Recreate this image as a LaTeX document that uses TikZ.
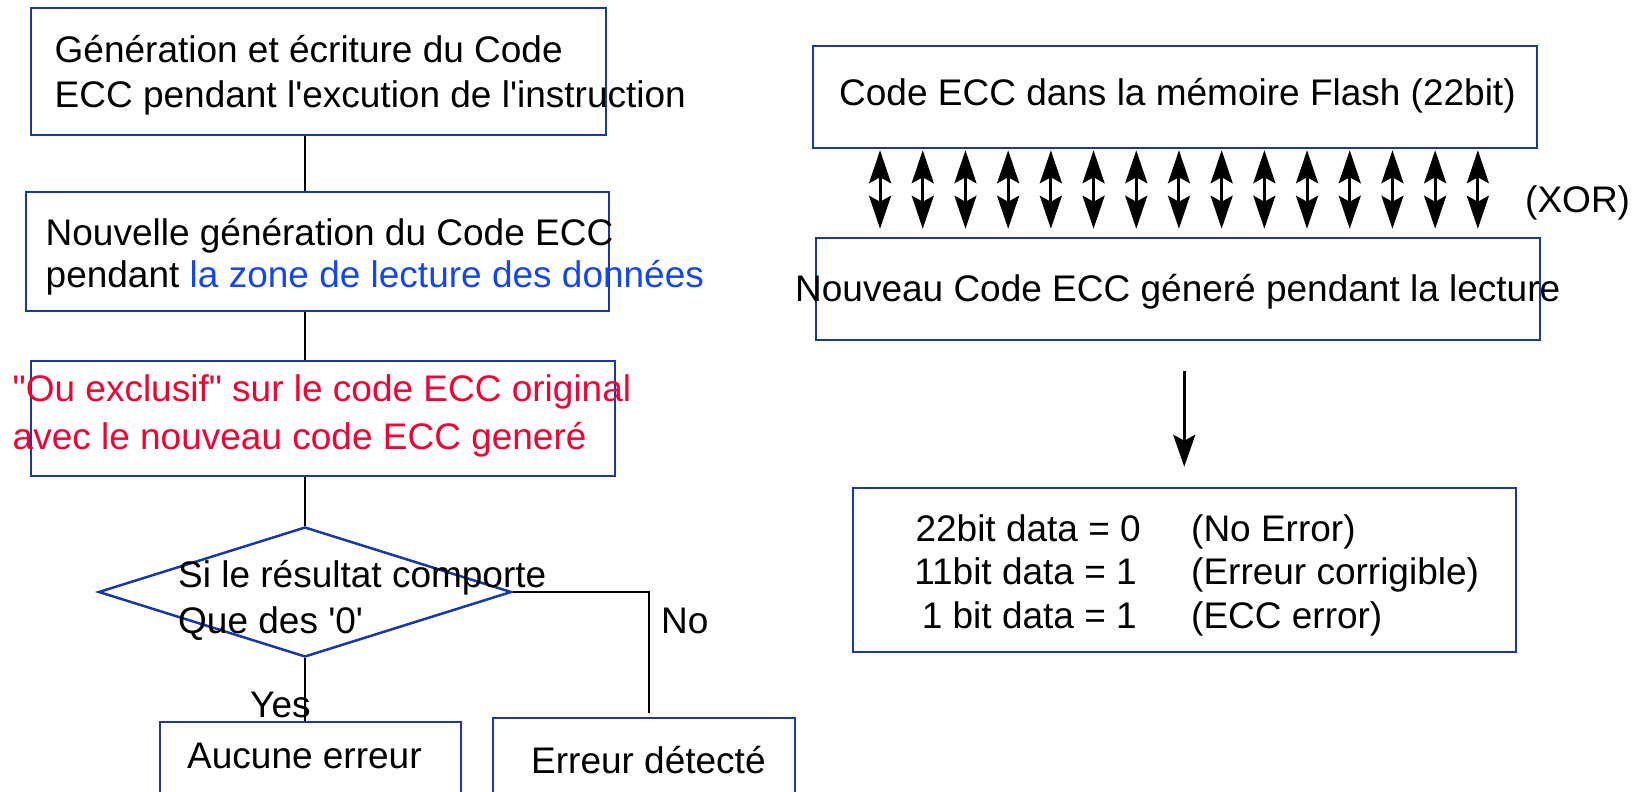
\documentclass[tikz,border=0pt]{standalone}
\usepackage{fontspec}
\setmainfont{Liberation Sans}
\usetikzlibrary{shapes.geometric,arrows.meta,calc}
\definecolor{boxblue}{RGB}{25,55,170}
\definecolor{txtblue}{RGB}{20,70,240}
\definecolor{txtred}{RGB}{245,0,50}
\begin{document}
\begin{tikzpicture}[x=1pt,y=-1pt,
  box/.style={draw=boxblue,line width=2.5pt,inner sep=0pt,rectangle},
  lbl/.style={font=\fontsize{37}{43}\selectfont,inner sep=0pt,anchor=base west},
  lblr/.style={lbl,anchor=base east},
  conn/.style={line width=2.7pt,black},
  xorarrow/.style={line width=3pt,black,{Stealth[length=33pt,width=22pt,inset=6pt]}-{Stealth[length=33pt,width=22pt,inset=6pt]}},
  downarrow/.style={line width=3pt,black,-{Stealth[length=32pt,width=22pt,inset=6pt]}}
  ]
\clip (0,0) rectangle (1634,792);
\fill[white] (0,0) rectangle (1634,792);

% ---------- left flowchart ----------
\node[box,minimum width=575pt,minimum height=127pt] (b1) at (318.5,71.5) {};
\node[box,minimum width=583pt,minimum height=119pt] (b2) at (317.5,251.5) {};
\node[box,minimum width=584pt,minimum height=115pt] (b3) at (323,418.5) {};
\node[diamond,draw=boxblue,line width=2.5pt,inner sep=0pt,minimum width=413pt,minimum height=130pt] (d) at (305,592) {};
\node[box,minimum width=301pt,minimum height=128pt] (ok) at (310.5,786) {};
\node[box,minimum width=302pt,minimum height=132pt] (err) at (644,784) {};
\coordinate (noend) at (649,713);

\draw[conn] (b1.south -| d.north) -- (b2.north -| d.north);
\draw[conn] (b2.south -| d.north) -- (b3.north -| d.north);
\draw[conn] (b3.south -| d.north) -- (d.north);
\draw[conn] (d.south) -- (ok.north -| d.south);
\draw[conn] (d.east) -| (noend);

\node[lbl] (t1a) at (54.5,63) {Génération et écriture du Code};
\node[lbl] (t1b) at (54.5,107) {ECC pendant l\textquotesingle excution de l\textquotesingle instruction};
\node[lbl] (t2a) at (45.5,245) {Nouvelle génération du Code ECC};
\node[lbl] (t2b) at (45.5,287) {pendant \textcolor{txtblue}{la zone de lecture des données}};
\node[lbl,text=txtred] (t3a) at (12.5,401) {\textquotedbl Ou exclusif\textquotedbl\ sur le code ECC original};
\node[lbl,text=txtred] (t3b) at (12.5,449) {avec le nouveau code ECC generé};
\node[lbl] (tda) at (178,587) {Si le résultat comporte};
\node[lbl] (tdb) at (178,633) {Que des \textquotesingle 0\textquotesingle};
\node[lbl] (tno) at (661,633) {No};
\node[lbl] (tyes) at (250,717) {Yes};
\node[lbl] (tok) at (187,768) {Aucune erreur};
\node[lbl] (terr) at (531,773) {Erreur détecté};

% ---------- right part ----------
\node[box,minimum width=724pt,minimum height=102pt] (top) at (1175,97) {};
\node[box,minimum width=724pt,minimum height=102pt] (bot) at (1178,289) {};
\node[box,minimum width=663pt,minimum height=164pt] (res) at (1184.5,570) {};

\foreach \i in {0,...,14}{
  \draw[xorarrow] ($(top.south west)+({68.3+42.7*\i},1)$) -- ($(bot.north west)+({65.3+42.7*\i},-8)$);
}
\draw[downarrow] ($(bot.south west)+(369.5,30)$) -- ($(res.north west)+(332.5,-20)$);

\node[lbl] (ttop) at (839,106) {Code ECC dans la mémoire Flash (22bit)};
\node[lbl] (tbot) at (795,301) {Nouveau Code ECC géneré pendant la lecture};
\node[lbl] (txor) at (1525,212) {(XOR)};

\node[lblr] (l1) at (1141,541) {22bit data = 0};
\node[lblr] (l2) at (1137,584) {11bit data = 1};
\node[lblr] (l3) at (1137,628) {1 bit data = 1};
\node[lbl] (r1) at (1191,541) {(No Error)};
\node[lbl] (r2) at (1191,584) {(Erreur corrigible)};
\node[lbl] (r3) at (1191,628) {(ECC error)};
\end{tikzpicture}
\end{document}
